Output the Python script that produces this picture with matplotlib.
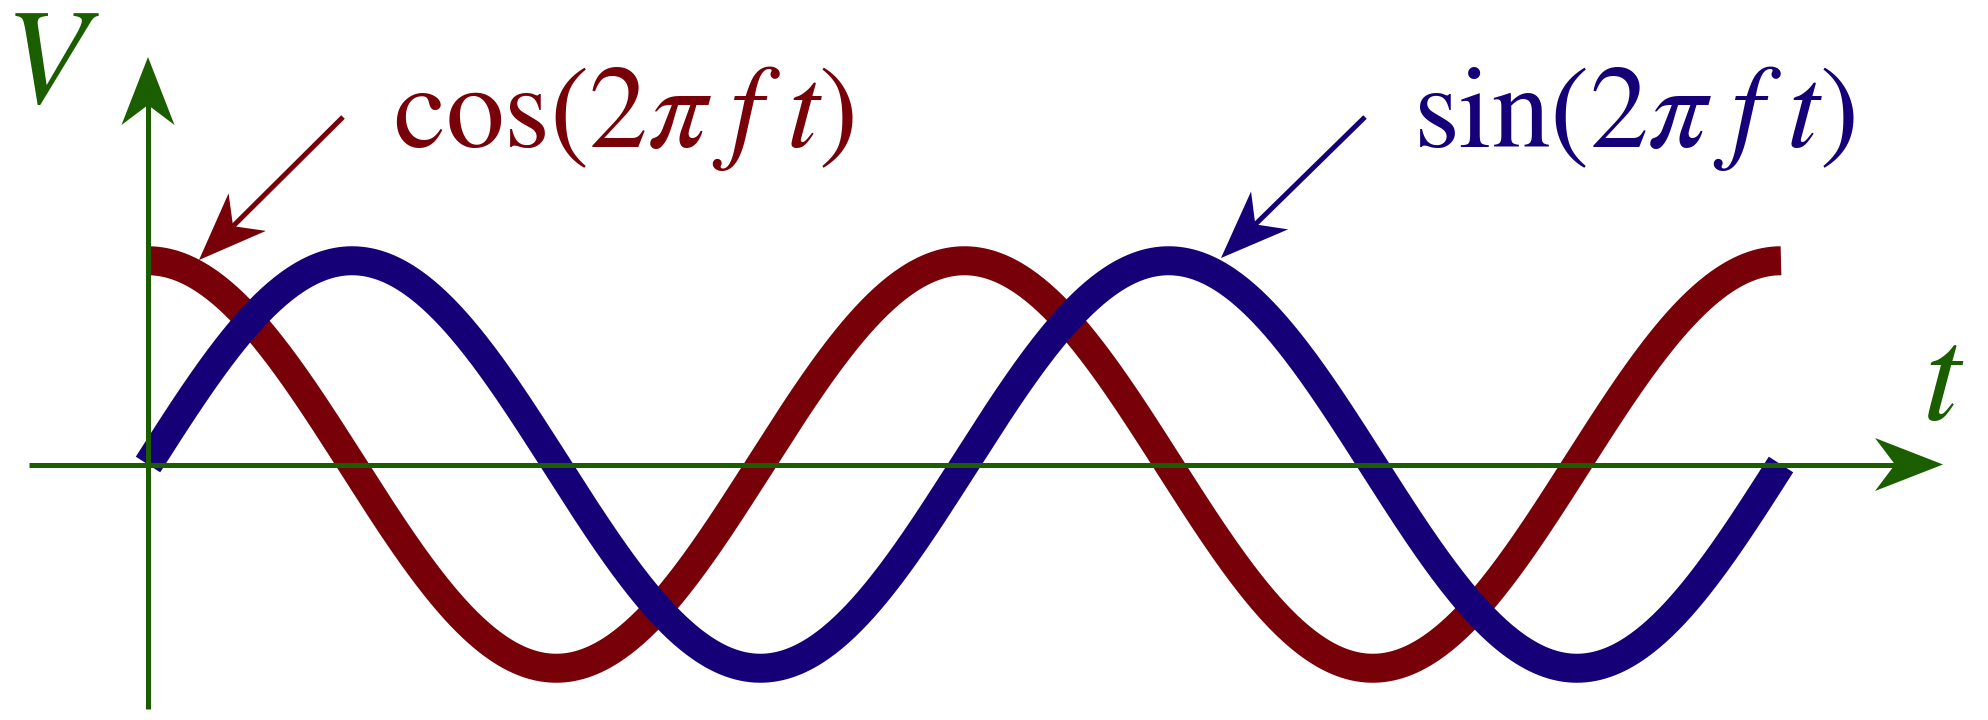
import numpy as np
import matplotlib
matplotlib.use('Agg')
import matplotlib.pyplot as plt
from matplotlib.lines import Line2D
from matplotlib.patches import Polygon
from matplotlib.transforms import IdentityTransform

# ── DATA ─────────────────────────────────────────────────────────────────────
FREQ      = 1.0      # cycles per unit of t
AMPLITUDE = 1.0
N_CYCLES  = 2
N_SAMPLES = 800

COS_LABEL = r'$\mathrm{cos}(2\pi\;f\;t)$'
SIN_LABEL = r'$\mathrm{sin}(2\pi\;f\;t)$'
V_LABEL   = r'$V$'
T_LABEL   = r'$t$'

# ── STYLE ────────────────────────────────────────────────────────────────────
GREEN = '#1a5e00'
RED   = '#780008'
NAVY  = '#150078'
W, H  = 1988, 720
DPI   = 100
AXIS_FS = 98

plt.rcParams['mathtext.fontset'] = 'stix'

t = np.linspace(0, N_CYCLES / FREQ, N_SAMPLES)
v_cos = AMPLITUDE * np.cos(2 * np.pi * FREQ * t)
v_sin = AMPLITUDE * np.sin(2 * np.pi * FREQ * t)

fig = plt.figure(figsize=(W / DPI, H / DPI), dpi=DPI)
ax = fig.add_axes([0, 0, 1, 1])
ax.axis('off')

# pixel layout of the reference: t=0 at x=148, one period = 816.5 px,
# V=0 at y=464.5 (from top), amplitude = 203.75 px
x0, per, y0, amp = 148, 816.5, 464.5, 203.75
ax.set_xlim(-x0 / per, (W - x0) / per)
ax.set_ylim(-(H - y0) / amp, y0 / amp)


def px(x, y):
    # top-left pixel coords -> display coords
    return np.array([x, H - y], dtype=float)


def arrow(tail, tip, color, lw=5, head_len=68, half_w=26.5, notch=20, z=5):
    tail, tip = px(*tail), px(*tip)
    d = tip - tail
    d /= np.hypot(*d)
    n = np.array([-d[1], d[0]])
    base = tip - d * head_len
    notch_pt = base + d * notch
    fig.add_artist(Line2D([tail[0], notch_pt[0] + d[0] * 4], [tail[1], notch_pt[1] + d[1] * 4],
                          color=color, lw=lw * 72 / DPI, solid_capstyle='butt',
                          transform=IdentityTransform(), zorder=z))
    head = [tip, base + n * half_w, notch_pt, base - n * half_w]
    fig.add_artist(Polygon(head, closed=True, color=color, lw=0,
                           transform=IdentityTransform(), zorder=z))


renderer = fig.canvas.get_renderer()


def fitted_label(s, left, baseline, color, width):
    # trial size first, then scale so the text width matches the reference
    txt = fig.text(left / W, 1 - baseline / H, s, color=color, fontsize=80,
                   ha='left', va='baseline')
    bb = txt.get_window_extent(renderer)
    txt.set_fontsize(80 * width / bb.width)
    return txt


# axes with arrowheads
arrow((29, 464.5), (1943, 464.5), GREEN, z=1)
arrow((148, 709), (148, 57), GREEN, z=1)

# curves
lw_curve = 29 * 72 / DPI
ax.plot(t, v_cos, color=RED, lw=lw_curve, solid_capstyle='butt', zorder=3)
ax.plot(t, v_sin, color=NAVY, lw=lw_curve, solid_capstyle='butt', zorder=4)

# annotation arrows
arrow((343, 117), (199, 260), RED, z=6)
arrow((1365, 117), (1221, 258), NAVY, z=6)

# labels
sin_txt = fitted_label(SIN_LABEL, 1413, 147, NAVY, 442)
fig.text(393 / W, 1 - 147 / H, COS_LABEL, color=RED,
         fontsize=sin_txt.get_fontsize(), ha='left', va='baseline')
fig.text(4 / W, 1 - 103 / H, V_LABEL, color=GREEN, fontsize=AXIS_FS,
         ha='left', va='baseline')
fig.text(1922 / W, 1 - 420 / H, T_LABEL, color=GREEN, fontsize=AXIS_FS,
         ha='left', va='baseline')

fig.savefig('out.png', dpi=DPI)
